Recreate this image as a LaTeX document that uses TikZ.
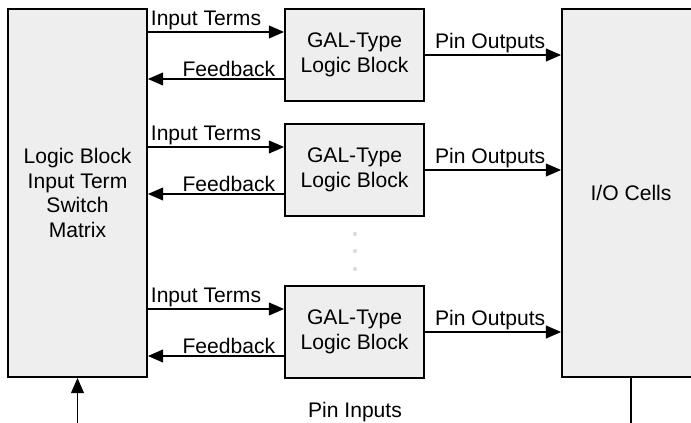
\documentclass[tikz,border=0pt]{standalone}
\usepackage{fontspec}
\setmainfont{Liberation Sans}
\usetikzlibrary{arrows.meta, positioning}
\definecolor{boxgray}{HTML}{EEEEEE}
\definecolor{dotgray}{HTML}{DDDDDD}

\begin{document}
\begin{tikzpicture}[
  big/.style={draw, line width=1.3pt, fill=boxgray, align=center,
              minimum height=9.2cm, inner sep=0pt},
  blk/.style={draw, line width=1.3pt, fill=boxgray, align=center,
              minimum width=3.475cm, minimum height=2.3cm, inner sep=0pt},
  sig/.style={line width=1.1pt, -{Triangle[length=0.38cm, width=0.32cm]}},
  lbl/.style={inner sep=1pt},
  font=\fontsize{15}{17.5}\selectfont,
]
  \useasboundingbox (0,0) rectangle (17.275,10.575);
  \clip (0,0) rectangle (17.275,10.575);
  \coordinate (pinbase) at (0,0);

  \node[big, minimum width=3.475cm] (matrix) at (1.9375,5.75)
    {Logic Block\\Input Term\\Switch\\Matrix};
  \node[big, minimum width=3.45cm] (io) at (15.775,5.75) {I/O Cells};

  \foreach \i/\y in {1/9.2, 2/6.325, 3/2.275} {
    \node[blk] (gal\i) at (8.8625,\y) {GAL-Type\\Logic Block};
    \coordinate (in\i) at ([yshift=0.575cm]gal\i.west);
    \coordinate (fb\i) at ([yshift=-0.6cm]gal\i.west);
    \draw[sig] (matrix.east |- in\i) -- (in\i)
      node[lbl, pos=0, above right, xshift=0.02cm] {Input Terms};
    \draw[sig] (fb\i) -- (matrix.east |- fb\i)
      node[lbl, pos=0, above left, xshift=-0.17cm] {Feedback};
    \draw[sig] (gal\i.east) -- (io.west |- gal\i.east)
      node[lbl, pos=0, above right, xshift=0.2cm] {Pin Outputs};
  }

  \foreach \y in {4.725, 4.3, 3.85}
    \fill[dotgray] (8.875,\y) circle (0.055);

  \draw[sig] (matrix.south |- pinbase) -- (matrix.south);
  \draw[line width=1.1pt] (io.south) -- (io.south |- pinbase);
  \node (pinin) at (8.875,0.275) {Pin Inputs};
\end{tikzpicture}
\end{document}
